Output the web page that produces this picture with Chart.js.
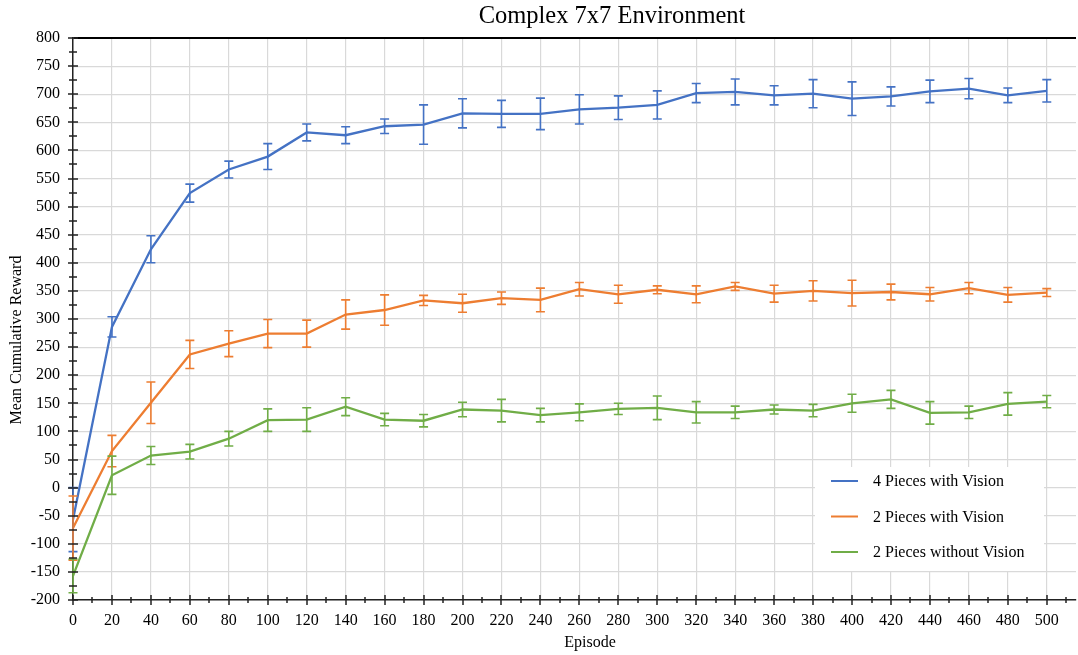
<!DOCTYPE html>
<html>
<head>
<meta charset="utf-8">
<title>Complex 7x7 Environment</title>
<script src="https://cdn.jsdelivr.net/npm/chart.js@4/dist/chart.umd.min.js"></script>
<style>
  html, body { margin: 0; padding: 0; background: #fff; }
  #wrap { width: 1078px; height: 655px; }
</style>
</head>
<body>
<div id="wrap"><canvas id="chart" width="1078" height="655"></canvas></div>
<script>
// Episodes at which the agents were evaluated
const episodes = [0, 20, 40, 60, 80, 100, 120, 140, 160, 180, 200, 220, 240,
                  260, 280, 300, 320, 340, 360, 380, 400, 420, 440, 460, 480, 500];

const seriesNames = ['4 Pieces with Vision', '2 Pieces with Vision', '2 Pieces without Vision'];
const seriesColors = ['#4472C4', '#ED7D31', '#70AD47'];

// Mean cumulative reward and its error (half-height of the error bar)
const fourWithVision = [-57, 286, 424, 524, 566, 589, 632, 627, 643, 646, 666, 665, 665,
                        673, 676, 681, 702, 704, 698, 701, 692, 696, 705, 710, 698, 706];
const fourWithVisionErr = [57, 18, 24, 16, 15, 23, 15, 15, 13, 35, 26, 24, 28,
                           26, 21, 25, 17, 23, 17, 25, 30, 17, 20, 18, 13, 20];

const twoWithVision = [-72, 65, 151, 237, 256, 274, 274, 308, 316, 333, 328, 337, 334,
                       353, 344, 352, 344, 358, 345, 350, 346, 348, 344, 355, 343, 347];
const twoWithVisionErr = [57, 28, 37, 25, 23, 25, 24, 26, 27, 9, 16, 11, 21,
                          12, 16, 7, 15, 7, 15, 18, 23, 14, 12, 10, 13, 7];

const twoWithoutVision = [-157, 22, 57, 64, 87, 120, 121, 144, 121, 119, 139, 137, 129,
                          134, 140, 142, 134, 134, 139, 137, 150, 157, 133, 134, 149, 153];
const twoWithoutVisionErr = [30, 34, 16, 13, 13, 20, 21, 16, 11, 11, 13, 20, 12,
                             15, 10, 21, 19, 11, 8, 11, 16, 16, 20, 11, 20, 11];

const means = [fourWithVision, twoWithVision, twoWithoutVision];
const errors = [fourWithVisionErr, twoWithVisionErr, twoWithoutVisionErr];

const titleText = 'Complex 7x7 Environment';
const xTitle = 'Episode';
const yTitle = 'Mean Cumulative Reward';

const FONT = '"Liberation Serif", "Times New Roman", Times, serif';
Chart.defaults.font.family = FONT;
Chart.defaults.font.size = 16;
Chart.defaults.color = '#000';

// Vertical error bars with caps, drawn from the mean/error arrays
const errorBarPlugin = {
  id: 'errorBars',
  afterDatasetsDraw(chart) {
    const { ctx, scales: { x, y } } = chart;
    ctx.save();
    ctx.lineWidth = 1.6;
    means.forEach((vals, i) => {
      ctx.strokeStyle = seriesColors[i];
      ctx.beginPath();
      vals.forEach((v, j) => {
        const px = x.getPixelForValue(episodes[j]);
        const top = y.getPixelForValue(v + errors[i][j]);
        const bot = y.getPixelForValue(v - errors[i][j]);
        ctx.moveTo(px, top); ctx.lineTo(px, bot);
        ctx.moveTo(px - 4.5, top); ctx.lineTo(px + 4.5, top);
        ctx.moveTo(px - 4.5, bot); ctx.lineTo(px + 4.5, bot);
      });
      ctx.stroke();
    });
    ctx.restore();
  }
};

// Tick marks that cross the axis lines, with minor ticks in between
const crossTicksPlugin = {
  id: 'crossTicks',
  afterDatasetsDraw(chart) {
    const { ctx, scales: { x, y } } = chart;
    ctx.save();
    ctx.strokeStyle = '#222';
    ctx.lineWidth = 1.5;
    ctx.beginPath();
    const ax = x.getPixelForValue(0);
    for (let v = y.min; v <= y.max; v += 25) {
      const py = Math.round(y.getPixelForValue(v));
      const len = v % 50 === 0 ? 5 : 4;
      ctx.moveTo(ax - len, py); ctx.lineTo(ax + len, py);
    }
    const ay = y.getPixelForValue(y.min);
    for (let v = 0; v <= x.max; v += 10) {
      const px = Math.round(x.getPixelForValue(v));
      const len = v % 20 === 0 ? 5 : 3;
      ctx.moveTo(px, ay - len); ctx.lineTo(px, ay + len);
    }
    ctx.stroke();
    ctx.restore();
  }
};

// Boxed legend inside the plot, lower right
const legendBoxPlugin = {
  id: 'legendBox',
  afterDraw(chart) {
    const { ctx } = chart;
    const box = { left: 815, top: 467, width: 229, height: 104 };
    ctx.save();
    ctx.fillStyle = '#fff';
    ctx.fillRect(box.left, box.top, box.width, box.height);
    ctx.font = '16px ' + FONT;
    ctx.textBaseline = 'middle';
    ctx.textAlign = 'left';
    seriesNames.forEach((name, i) => {
      const cy = 481 + i * 35.5;
      ctx.strokeStyle = seriesColors[i];
      ctx.lineWidth = 2;
      ctx.beginPath();
      ctx.moveTo(831, cy); ctx.lineTo(858, cy);
      ctx.stroke();
      ctx.fillStyle = '#000';
      ctx.fillText(name, 873, cy + 1);
    });
    ctx.restore();
  }
};

// Chart title and axis titles
const captionsPlugin = {
  id: 'captions',
  afterDraw(chart) {
    const { ctx } = chart;
    ctx.save();
    ctx.fillStyle = '#000';
    ctx.textAlign = 'center';
    ctx.textBaseline = 'middle';
    ctx.font = '24.5px ' + FONT;
    ctx.fillText(titleText, 612, 17);
    ctx.font = '16px ' + FONT;
    ctx.fillText(xTitle, 590, 643);
    ctx.translate(17, 340);
    ctx.rotate(-Math.PI / 2);
    ctx.fillText(yTitle, 0, 0);
    ctx.restore();
  }
};

const datasets = seriesNames.map((name, i) => ({
  label: name,
  data: episodes.map((e, j) => ({ x: e, y: means[i][j] })),
  borderColor: seriesColors[i],
  backgroundColor: seriesColors[i],
  borderWidth: 2.3,
  pointRadius: 0,
  pointHoverRadius: 0,
  tension: 0,
  fill: false
}));

new Chart(document.getElementById('chart'), {
  type: 'line',
  data: { datasets },
  options: {
    responsive: false,
    animation: false,
    devicePixelRatio: 1,
    layout: { padding: { top: 38, right: 2, left: 0, bottom: 0 } },
    plugins: {
      legend: { display: false },
      title: { display: false },
      tooltip: { enabled: false }
    },
    scales: {
      x: {
        type: 'linear',
        min: 0,
        max: 515,
        ticks: { stepSize: 20, includeBounds: false, padding: 11, maxRotation: 0, autoSkip: false,
                 font: { size: 16 } },
        grid: { color: '#d9d9d9', lineWidth: 1.2, drawTicks: false },
        border: { color: '#222', width: 1.5 },
        afterFit(scale) { scale.height = 55; }
      },
      y: {
        min: -200,
        max: 800,
        ticks: { stepSize: 50, padding: 13, font: { size: 16 } },
        grid: {
          color: (c) => (c.tick && c.tick.value === 800 ? '#000' : '#d9d9d9'),
          lineWidth: (c) => (c.tick && c.tick.value === 800 ? 2 : 1.2),
          drawTicks: false
        },
        border: { color: '#222', width: 1.5 },
        afterFit(scale) { scale.width = 73; }
      }
    }
  },
  plugins: [errorBarPlugin, crossTicksPlugin, legendBoxPlugin, captionsPlugin]
});
</script>
</body>
</html>
